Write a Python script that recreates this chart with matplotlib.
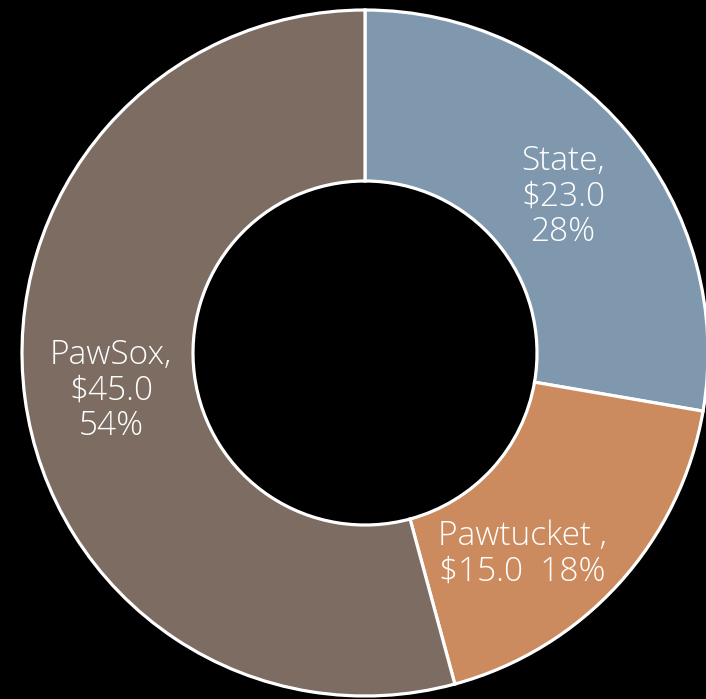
import matplotlib.pyplot as plt

labels = ['State,\n$23.0\n28%', 'Pawtucket ,\n$15.0  18%', 'PawSox,\n$45.0\n54%']
values = [23.0, 15.0, 45.0]
colors = ['#7F98AE', '#CC8B5E', '#7C6C61']
# label positions in pixel coords (y from bottom)
label_pos = [(563, 502), (522, 145), (111, 308)]

fig = plt.figure(figsize=(7.06, 6.99), dpi=100, facecolor='black')
ax = fig.add_axes([0, 0, 1, 1])
ax.set_facecolor('black')

ax.pie(values, colors=colors, startangle=90, counterclock=False,
       center=(365, 346), radius=343, frame=True,
       wedgeprops=dict(width=171, edgecolor='white', linewidth=2.3))
ax.set_xlim(0, 706)
ax.set_ylim(0, 699)
ax.axis('off')

for lab, (x, y) in zip(labels, label_pos):
    ax.text(x, y, lab, color='white', fontsize=24, ha='center', va='center',
            family='Open Sans', weight='light', linespacing=1.08)

fig.savefig('out.png', dpi=100, facecolor='black')
